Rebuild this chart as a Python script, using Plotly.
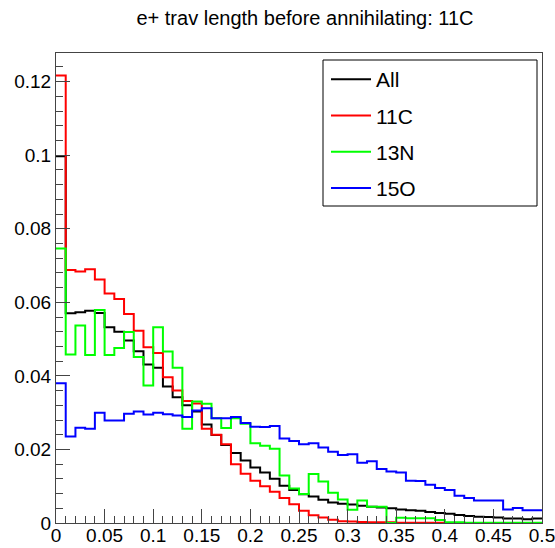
import plotly.graph_objects as go

# bin edges: 50 bins from 0 to 0.5
n_bins = 50
x_min, x_max = 0.0, 0.5
edges = [x_min + i * (x_max - x_min) / n_bins for i in range(n_bins + 1)]

series_names = ["All", "11C", "13N", "15O"]
series_colors = ["#000000", "#ff0000", "#00ff00", "#0000ff"]

all_vals = [
    0.0997, 0.0570, 0.0573, 0.0577, 0.0571, 0.0532, 0.0520, 0.0496, 0.0467, 0.0431,
    0.0422, 0.0371, 0.0342, 0.0320, 0.0303, 0.0268, 0.0239, 0.0212, 0.0190, 0.0170,
    0.0151, 0.0137, 0.0120, 0.0101, 0.0090, 0.0078, 0.0072, 0.0063, 0.0056, 0.0052,
    0.0050, 0.0047, 0.0044, 0.0042, 0.0040, 0.0037, 0.0035, 0.0033, 0.0030, 0.0027,
    0.0025, 0.0022, 0.0019, 0.0017, 0.0016, 0.0015, 0.0012, 0.0012, 0.0010, 0.0012,
]
c11_vals = [
    0.1217, 0.0688, 0.0684, 0.0690, 0.0662, 0.0624, 0.0609, 0.0568, 0.0523, 0.0478,
    0.0462, 0.0396, 0.0360, 0.0332, 0.0325, 0.0256, 0.0240, 0.0214, 0.0160, 0.0134,
    0.0115, 0.0100, 0.0085, 0.0068, 0.0051, 0.0033, 0.0021, 0.0015, 0.0009, 0.0005,
    0.0004, 0.0003, 0.0002, 0.0002, 0.0002, 0.0001, 0.0001, 0.0001, 0.0001, 0.0001,
    0.0, 0.0, 0.0, 0.0, 0.0, 0.0, 0.0, 0.0, 0.0, 0.0,
]
n13_vals = [
    0.0746, 0.0458, 0.0537, 0.0457, 0.0579, 0.0457, 0.0476, 0.0519, 0.0451, 0.0374,
    0.0532, 0.0466, 0.0422, 0.0256, 0.0330, 0.0324, 0.0285, 0.0258, 0.0285, 0.0270,
    0.0217, 0.0210, 0.0202, 0.0129, 0.0094, 0.0079, 0.0133, 0.0113, 0.0082, 0.0064,
    0.0036, 0.0061, 0.0044, 0.0044, 0.0000, 0.0014, 0.0013, 0.0013, 0.0013, 0.0008,
    0.0002, 0.0002, 0.0001, 0.0001, 0.0001, 0.0001, 0.0001, 0.0001, 0.0001, 0.0001,
]
o15_vals = [
    0.0380, 0.0235, 0.0259, 0.0256, 0.0300, 0.0279, 0.0279, 0.0297, 0.0303, 0.0295,
    0.0300, 0.0296, 0.0292, 0.0288, 0.0306, 0.0312, 0.0285, 0.0285, 0.0288, 0.0272,
    0.0262, 0.0261, 0.0264, 0.0230, 0.0223, 0.0214, 0.0217, 0.0205, 0.0194, 0.0185,
    0.0187, 0.0164, 0.0168, 0.0147, 0.0140, 0.0137, 0.0115, 0.0114, 0.0104, 0.0095,
    0.0090, 0.0074, 0.0068, 0.0061, 0.0061, 0.0061, 0.0037, 0.0041, 0.0035, 0.0035,
]

x_tick_vals = [0, 0.05, 0.1, 0.15, 0.2, 0.25, 0.3, 0.35, 0.4, 0.45, 0.5]
x_tick_text = ["0", "0.05", "0.1", "0.15", "0.2", "0.25", "0.3", "0.35", "0.4", "0.45", "0.5"]
y_tick_vals = [0, 0.02, 0.04, 0.06, 0.08, 0.1, 0.12]
y_tick_text = ["0", "0.02", "0.04", "0.06", "0.08", "0.1", "0.12"]

title_text = "e+ trav length before annihilating: 11C"

W, H = 555, 548
ML, MR, MT, MB = 56, 13, 53, 25

font_family = "Liberation Sans, Arial, Helvetica, sans-serif"

fig = go.Figure()
for name, color, vals in zip(series_names, series_colors, [all_vals, c11_vals, n13_vals, o15_vals]):
    fig.add_trace(go.Scatter(
        x=edges,
        y=vals + [vals[-1]],
        mode="lines",
        line=dict(color=color, width=2, shape="hv"),
        name=name,
        legendgroup=name,
        hoverinfo="skip",
    ))

ymax = max(c11_vals) * 1.05

axis_common = dict(
    showgrid=False,
    zeroline=False,
    showline=True,
    linecolor="#444444",
    linewidth=1,
    mirror=True,
    ticks="inside",
    ticklen=14,
    tickwidth=1,
    tickcolor="#444444",
    automargin=False,
    ticklabeloverflow="allow",
    tickfont=dict(family=font_family, size=19, color="#000000"),
)

fig.update_xaxes(
    range=[x_min, x_max],
    tickmode="array",
    tickvals=x_tick_vals,
    ticktext=x_tick_text,
    ticklabelstandoff=-5,
    minor=dict(ticks="inside", ticklen=7, dtick=0.01, tickcolor="#444444", showgrid=False),
    **axis_common,
)
fig.update_yaxes(
    range=[0, ymax],
    tickmode="array",
    tickvals=y_tick_vals,
    ticktext=y_tick_text,
    minor=dict(ticks="inside", ticklen=7, dtick=0.004, tickcolor="#444444", showgrid=False),
    **axis_common,
)

pw = W - ML - MR
ph = H - MT - MB
# legend box (pixel -> paper)
lx0, lx1, ly0, ly1 = 323, 537, 60, 206
fig.add_shape(
    type="rect", xref="paper", yref="paper",
    x0=(lx0 - ML) / pw, x1=(lx1 - ML) / pw,
    y0=(H - MB - ly1) / ph, y1=(H - MB - ly0) / ph,
    line=dict(color="#000000", width=1), fillcolor="#ffffff", layer="above",
)

fig.update_layout(
    width=W, height=H,
    margin=dict(l=ML, r=MR, t=MT, b=MB),
    paper_bgcolor="#ffffff",
    plot_bgcolor="#ffffff",
    title=dict(
        text=title_text,
        x=305 / W, xref="container", xanchor="center",
        y=1 - 18 / H, yref="container", yanchor="middle",
        font=dict(family=font_family, size=20, color="#000000"),
    ),
    showlegend=True,
    legend=dict(
        x=(lx0 + 3 - ML) / pw, xanchor="left",
        y=(H - MB - ly0 + 1) / ph, yanchor="top",
        bgcolor="rgba(0,0,0,0)",
        borderwidth=0,
        font=dict(family=font_family, size=21, color="#000000"),
        tracegroupgap=6,
        itemwidth=40,
    ),
)

fig.write_html("out.html")
